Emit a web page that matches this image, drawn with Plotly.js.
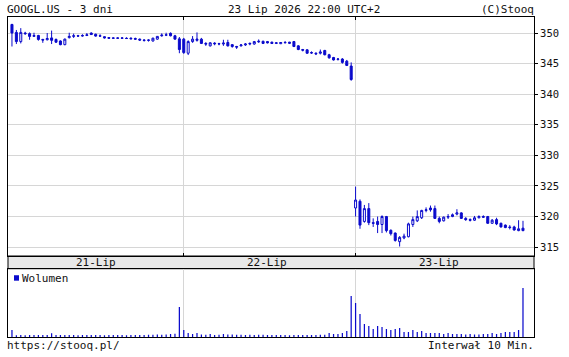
<!DOCTYPE html>
<html><head><meta charset="utf-8">
<script src="https://cdn.plot.ly/plotly-3.0.1.min.js"></script>
<style>html,body{margin:0;padding:0;background:#fff}#c{width:569px;height:357px}</style>
</head><body><div id="c"></div>
<script>
// ---- data (10-minute bars, 3 sessions) ----
const dayLabels = ['21-Lip', '22-Lip', '23-Lip'];
const title = 'GOOGL.US - 3 dni';
const stamp = '23 Lip 2026 22:00 UTC+2';
const priceTicks = [315, 320, 325, 330, 335, 340, 345, 350];

const d1Open  = [351.4,350.1,348.6,350.0,349.9,349.45,349.6,348.95,348.9,349.2,348.95,348.7,348.1,349.25,349.45,349.55,349.5,349.6,350.0,349.8,349.55,349.4,349.25,349.2,349.2,349.2,349.15,349.15,349.1,349.0,348.85,348.8,348.7,349.0,349.55,349.65,349.95,349.55,349.05];
const d1High  = [351.5,350.5,350.8,350.2,350.1,350.05,349.7,349.05,350.0,350.4,349.1,348.8,349.1,350.05,349.9,349.7,349.8,350.0,350.1,349.9,349.8,349.45,349.35,349.3,349.3,349.35,349.3,349.3,349.25,349.1,349.0,348.95,349.25,349.5,349.95,350.05,350.1,349.7,349.35];
const d1Low   = [347.8,348.2,348.3,349.7,348.9,349.35,348.75,348.4,348.8,348.2,348.4,348.0,348.0,349.1,349.2,349.4,349.4,349.5,349.7,349.4,349.4,349.1,349.1,349.05,349.1,349.05,349.05,349.0,348.9,348.7,348.6,348.6,348.6,348.9,349.4,349.5,349.45,348.95,346.7];
const d1Close = [350.0,348.6,350.1,349.9,349.45,349.6,348.95,348.85,349.1,348.8,348.5,348.1,349.0,349.45,349.55,349.5,349.6,349.7,349.75,349.5,349.5,349.2,349.15,349.15,349.15,349.15,349.1,349.05,349.0,348.85,348.8,348.85,349.15,349.45,349.65,349.7,349.55,349.0,347.3];

const d2Open  = [349.0,346.7,348.6,348.8,349.0,348.3,347.9,348.35,348.2,348.2,348.45,348.1,347.8,347.9,348.05,348.2,348.2,348.55,348.65,348.6,348.5,348.3,348.25,348.4,348.3,348.6,347.9,347.3,347.25,346.8,346.7,346.7,347.15,346.45,346.0,345.7,345.75,345.4,344.6];
const d2High  = [349.2,348.8,349.5,350.1,349.2,348.5,348.5,348.5,348.4,348.9,348.9,348.2,347.9,348.2,348.35,348.45,348.7,348.95,348.75,348.7,348.6,348.5,348.5,348.7,348.55,348.7,348.0,347.4,347.35,347.0,346.85,347.3,347.25,346.6,346.1,345.9,345.9,345.6,345.2];
const d2Low   = [346.6,346.4,348.4,348.6,348.2,347.9,347.8,348.0,348.0,347.9,347.8,347.6,347.4,347.8,347.9,348.0,348.1,348.4,348.2,348.3,348.2,348.2,348.2,348.3,348.2,347.7,347.2,347.0,346.6,346.6,346.4,346.5,346.35,345.8,345.5,345.5,345.0,344.6,342.2];
const d2Close = [346.8,348.6,349.0,349.0,348.3,348.2,348.4,348.25,348.25,348.35,347.9,347.8,347.7,348.05,348.2,348.3,348.6,348.65,348.3,348.4,348.3,348.4,348.45,348.45,348.5,347.8,347.3,347.2,346.7,346.75,346.6,346.9,346.45,345.95,345.6,345.75,345.2,344.7,342.4];

const d3Open  = [321.4,322.5,319.2,321.3,319.0,319.2,318.7,320.0,317.75,317.3,315.9,316.5,316.7,318.7,319.3,319.8,321.0,321.4,321.3,319.7,319.3,319.9,320.0,320.4,320.6,319.7,319.5,319.4,319.8,320.0,320.0,318.9,319.5,318.9,318.6,318.3,318.3,317.7,318.1];
const d3High  = [324.9,322.8,321.9,322.2,319.7,320.0,320.2,320.1,317.9,317.4,316.8,317.2,319.0,320.0,321.0,321.1,321.5,321.8,321.8,320.0,320.0,320.4,320.5,321.2,320.7,319.9,319.7,320.1,320.2,320.2,320.1,319.6,319.8,319.0,318.7,318.6,318.5,319.4,319.3];
const d3Low   = [320.0,318.0,319.0,318.6,318.3,317.3,317.3,317.4,316.9,315.9,315.1,316.3,316.6,318.3,319.1,319.6,320.7,320.8,319.6,318.9,319.2,319.6,319.9,320.2,319.6,319.3,319.2,319.3,319.7,319.8,318.8,318.8,318.6,318.2,318.1,317.9,317.7,317.6,317.6];
const d3Close = [322.7,318.6,321.3,319.0,318.9,318.7,320.0,317.7,317.2,316.1,316.6,316.8,318.8,319.5,320.0,321.0,321.1,321.1,319.7,319.2,319.9,320.0,320.3,320.6,319.7,319.5,319.4,319.8,320.0,319.9,318.9,319.4,318.8,318.3,318.2,318.2,317.8,318.0,317.7];

// volume, thousands of shares
const d1Vol = [700,170,200,180,190,190,200,190,190,370,190,190,190,200,200,180,190,200,190,200,190,180,200,190,190,200,180,190,200,210,200,220,230,250,220,260,300,330,3000];
const d2Vol = [700,400,300,400,260,230,300,210,230,300,260,240,220,230,200,220,210,230,220,200,210,190,200,210,180,200,190,200,190,210,200,230,220,400,300,300,400,600,4100];
const d3Vol = [3400,2300,1300,1100,800,1100,1000,800,700,800,900,500,500,700,500,600,400,400,400,400,300,400,300,300,300,250,300,250,250,300,300,400,300,400,500,500,500,700,4900];

// ---- build ----
const O = d1Open.concat(d2Open, d3Open);
const H = d1High.concat(d2High, d3High);
const L = d1Low.concat(d2Low, d3Low);
const C = d1Close.concat(d2Close, d3Close);
const V = d1Vol.concat(d2Vol, d3Vol);
const X = O.map((_, i) => i);
const n1 = d1Open.length, n2 = d2Open.length, n3 = d3Open.length;
const dayStarts = [n1, n1 + n2];
const dayCenters = [(n1 - 1) / 2, n1 + (n2 - 1) / 2, n1 + n2 + (n3 - 1) / 2];

const BLUE = '#0a0acc';
const MONO = 'DejaVu Sans Mono';
const GRID = '#d6d6d6';

const traces = [
  {type: 'candlestick', x: X, open: O, high: H, low: L, close: C, xaxis: 'x', yaxis: 'y',
   increasing: {line: {color: BLUE, width: 1}, fillcolor: '#ffffff'},
   decreasing: {line: {color: BLUE, width: 1}, fillcolor: BLUE},
   whiskerwidth: 0, showlegend: false, hoverinfo: 'skip'},
  {type: 'bar', x: X, y: V, xaxis: 'x2', yaxis: 'y2', width: 0.28,
   marker: {color: BLUE, line: {width: 0}}, showlegend: false, hoverinfo: 'skip'}
];

const pTop = 1, pBot = 0.2531, vTop = 0.2134;
const xr = [-0.9, 118.5];

const ann = [
  {text: title, xref: 'paper', yref: 'paper', x: -0.006, y: 1.024, xanchor: 'left', yanchor: 'middle', showarrow: false, font: {family: MONO, size: 11, color: '#111'}},
  {text: stamp, xref: 'paper', yref: 'paper', x: 0.562, y: 1.024, xanchor: 'center', yanchor: 'middle', showarrow: false, font: {family: MONO, size: 11, color: '#111'}},
  {text: '(C)Stooq', xref: 'paper', yref: 'paper', x: 1.004, y: 1.024, xanchor: 'right', yanchor: 'middle', showarrow: false, font: {family: MONO, size: 11, color: '#111'}},
  {text: 'https://stooq.pl/', xref: 'paper', yref: 'paper', x: -0.006, y: -0.026, xanchor: 'left', yanchor: 'middle', showarrow: false, font: {family: MONO, size: 11, color: '#111'}},
  {text: 'Interwał 10 Min.', xref: 'paper', yref: 'paper', x: 1.004, y: -0.026, xanchor: 'right', yanchor: 'middle', showarrow: false, font: {family: MONO, size: 11, color: '#111'}},
  {text: 'Wolumen', xref: 'paper', yref: 'paper', x: 0.023, y: 0.184, xanchor: 'left', yanchor: 'middle', showarrow: false, font: {family: MONO, size: 11, color: '#111'}}
];
dayLabels.forEach((t, i) => ann.push({text: t, xref: 'x', yref: 'paper', x: dayCenters[i], y: (pBot + vTop) / 2, xanchor: 'center', yanchor: 'middle', showarrow: false, font: {family: MONO, size: 11, color: '#111'}}));

const shapes = [
  {type: 'rect', xref: 'paper', yref: 'paper', x0: 0, x1: 1, y0: vTop, y1: pBot, fillcolor: '#e8e8e8', line: {color: '#000', width: 1}, layer: 'below'},
  {type: 'rect', xref: 'paper', yref: 'paper', x0: 0.0114, x1: 0.0209, y0: 0.176, y1: 0.193, fillcolor: BLUE, line: {width: 0}}
];

const layout = {
  width: 569, height: 357,
  margin: {l: 8, r: 35, t: 17, b: 20, pad: 0},
  paper_bgcolor: '#fff', plot_bgcolor: '#fff',
  showlegend: false, boxgap: 0.35,
  xaxis: {domain: [0, 1], range: xr, anchor: 'y', fixedrange: true, rangeslider: {visible: false},
          tickmode: 'array', tickvals: dayStarts, showticklabels: false, ticks: 'inside', ticklen: 3, tickcolor: '#000',
          showgrid: true, gridcolor: GRID, gridwidth: 1, zeroline: false,
          showline: true, linecolor: '#000', linewidth: 1, mirror: 'allticks'},
  xaxis2: {domain: [0, 1], range: xr, anchor: 'y2', matches: 'x', fixedrange: true,
          tickmode: 'array', tickvals: dayStarts, showticklabels: false, ticks: '', 
          showgrid: true, gridcolor: GRID, gridwidth: 1, zeroline: false,
          showline: true, linecolor: '#000', linewidth: 1, mirror: true},
  yaxis: {domain: [pBot, pTop], range: [313.55, 352.62], anchor: 'x', side: 'right', fixedrange: true,
          tickmode: 'array', tickvals: priceTicks, ticks: 'outside', ticklen: 3, tickcolor: '#000',
          tickfont: {family: MONO, size: 10.5, color: '#111'}, showgrid: true, gridcolor: GRID, gridwidth: 1,
          zeroline: false, showline: true, linecolor: '#000', linewidth: 1, mirror: true},
  yaxis3: {domain: [pBot, pTop], range: [313.55, 352.62], anchor: 'x', overlaying: 'y', side: 'left', fixedrange: true,
          tickmode: 'array', tickvals: priceTicks, ticks: 'inside', ticklen: 3, tickcolor: '#000',
          showticklabels: false, showgrid: false, zeroline: false, showline: false},
  yaxis2: {domain: [0, vTop], range: [0, 6830], anchor: 'x2', fixedrange: true,
          showticklabels: false, ticks: '', showgrid: false, zeroline: false,
          showline: true, linecolor: '#000', linewidth: 1, mirror: true},
  annotations: ann,
  shapes: shapes
};

Plotly.newPlot('c', traces, layout, {staticPlot: true, displayModeBar: false});
</script>
</body></html>
